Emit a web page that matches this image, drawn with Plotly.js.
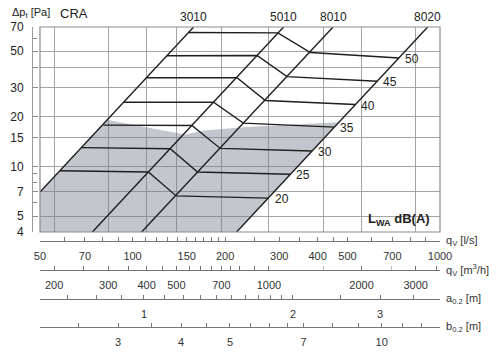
<!DOCTYPE html>
<html><head><meta charset="utf-8">
<script src="https://cdn.plot.ly/plotly-3.0.1.min.js"></script>
<style>html,body{margin:0;padding:0;background:#fff}#chart{width:500px;height:355px}</style>
</head><body><div id="chart"></div>
<script>
// Fan size lines (q in l/s, dp in Pa), end points
const sizeNames = ['3010', '5010', '8010', '8020'];
const sizeQ = [[50, 158], [74, 310], [107, 449], [218, 912]];
const sizeP = [[7.0, 70], [4, 70], [4, 70], [4, 70]];

// Sound level lines LWA dB(A): points on 3010, 5010, 8010, 8020 lines
const dbLevels = ['20', '25', '30', '35', '40', '45', '50'];
const dbQ = [
  [58.1, 112.6, 138.7, 277],
  [68.4, 132.6, 162.7, 326],
  [80.4, 156, 192.9, 384],
  [93.4, 183.4, 229.2, 453],
  [111.3, 218.6, 270.3, 531],
  [129.3, 254, 318, 625],
  [152.1, 297, 378.9, 735]
];
const dbP = [
  [9.4, 9.24, 6.62, 6.42],
  [13.0, 12.8, 9.25, 8.95],
  [17.8, 17.7, 12.85, 12.4],
  [24.5, 24.5, 18.3, 17.3],
  [34.5, 34.5, 25.1, 23.7],
  [46.9, 47.0, 35.0, 32.8],
  [64.8, 64.5, 49.0, 45.4]
];

// Grey recommended area
const shadeQ = [50, 218, 467, 330, 242, 170, 148, 114, 82.5, 50];
const shadeP = [4, 4, 18.5, 17.9, 17.4, 16.5, 15.6, 17.1, 19.2, 7.0];

// Grid (m3/h) and axis ticks
const gridM3h = [200, 300, 400, 500, 700, 1000, 1500, 2000, 3000];
const yTicks = [4, 5, 7, 10, 15, 20, 30, 40, 50, 70];
const yTickText = ['4', '5', '7', '10', '15', '20', '30', '', '50', '70'];
const yMinor = [6, 8, 9, 60];

const lsTicks = [50, 60, 70, 80, 90, 100, 110, 120, 130, 140, 150, 160, 170, 180, 190, 200, 250, 300, 350, 400, 450, 500, 600, 700, 800, 900, 1000];
const lsLabels = [50, 70, 100, 150, 200, 300, 400, 500, 700, 1000];
const m3hTicks = [181, 200, 250, 300, 350, 400, 450, 500, 550, 600, 650, 700, 750, 800, 900, 1000, 2000, 3000, 3500, 3590];
const m3hMinor = [1500, 2500];
const m3hLabels = [200, 300, 400, 500, 700, 1000, 2000, 3000];
const aTicks = [0.618, 0.7, 0.8, 0.9, 1, 1.1, 1.2, 1.3, 1.4, 1.5, 1.6, 1.7, 1.8, 1.9, 2, 2.5, 3, 3.5, 3.95];
const aLabels = [1, 2, 3];
const bTicks = [2.105, 2.5, 3, 3.5, 4, 4.5, 5, 5.5, 6, 6.5, 7, 8, 9, 10, 11, 12, 13.0];
const bLabels = [3, 4, 5, 7, 10];

const F = 'Liberation Sans, Arial, Helvetica, sans-serif';
const LC = '#1e1e1e';
const L10 = Math.log10;

const traces = [];
traces.push({x: shadeQ, y: shadeP, mode: 'lines', fill: 'toself',
  fillcolor: 'rgba(117,124,137,0.43)', line: {width: 0}, hoverinfo: 'skip'});
sizeNames.forEach((n, i) => traces.push({x: sizeQ[i], y: sizeP[i], mode: 'lines',
  line: {color: LC, width: 1.4}, hoverinfo: 'skip'}));
dbLevels.forEach((n, i) => traces.push({x: dbQ[i], y: dbP[i], mode: 'lines',
  line: {color: LC, width: 1.4}, hoverinfo: 'skip'}));
// anchor traces for the extra scales
[['x2', lsTicks], ['x3', m3hTicks], ['x4', aTicks], ['x5', bTicks]].forEach(([ax, t]) =>
  traces.push({x: [t[1]], y: [yTicks[1]], xaxis: ax, mode: 'markers', marker: {opacity: 0}, hoverinfo: 'skip'}));

const lab = (ticks, labels) => ticks.map(v => labels.includes(v) ? String(v) : '');

function lowerAxis(range, pos, tickvals, ticktext, minorVals) {
  const ax = {
    type: 'log', range: range, overlaying: 'x', anchor: 'free', position: pos, side: 'bottom',
    showline: true, linecolor: '#777', linewidth: 1,
    ticks: 'inside', ticklen: 4, tickcolor: '#777', tickwidth: 1,
    tickmode: 'array', tickvals: tickvals, ticktext: ticktext, ticklabelstandoff: 5,
    tickfont: {family: F, size: 11, color: '#333'}, showgrid: false, zeroline: false, fixedrange: true
  };
  if (minorVals) ax.minor = {tickmode: 'array', tickvals: minorVals, ticks: 'inside', ticklen: 4, tickcolor: '#bbb', showgrid: false};
  return ax;
}

const posLs = 0.2937, posM3 = 0.198, posA = 0.1023, posB = 0.0099;

const annotations = [];
sizeNames.forEach((n, i) => annotations.push({x: L10(sizeQ[i][1]), y: L10(sizeP[i][1]), xref: 'x', yref: 'y',
  text: n, showarrow: false, yshift: 10, yanchor: 'middle', font: {family: F, size: 12, color: '#222'}}));
dbLevels.forEach((n, i) => annotations.push({x: L10(dbQ[i][3]), y: L10(dbP[i][3]), xref: 'x', yref: 'y',
  text: n, showarrow: false, xanchor: 'left', xshift: 4, yshift: -1, font: {family: F, size: 12, color: '#222'}}));
annotations.push({xref: 'paper', yref: 'paper', x: -0.05, y: 1, xanchor: 'left', yanchor: 'middle', yshift: 14,
  text: 'Δp<sub>t</sub> [Pa]', showarrow: false, font: {family: F, size: 11, color: '#222'}});
annotations.push({xref: 'paper', yref: 'paper', x: 0.068, y: 1, xanchor: 'left', yanchor: 'middle', yshift: 14,
  text: 'CRA', showarrow: false, font: {family: F, size: 13, color: '#222'}});
annotations.push({xref: 'paper', yref: 'paper', x: 0.9805, y: 0.3663, xanchor: 'right', yanchor: 'middle',
  text: '<b>L<sub>WA</sub> dB(A)</b>', showarrow: false, font: {family: F, size: 13, color: '#222'}});
[['q<sub>V</sub> [l/s]', posLs], ['q<sub>V</sub> [m<sup>3</sup>/h]', posM3], ['a<sub>0.2</sub> [m]', posA], ['b<sub>0.2</sub> [m]', posB]]
  .forEach(([t, p]) => annotations.push({xref: 'paper', yref: 'paper', x: 1, y: p, xanchor: 'left', yanchor: 'middle', xshift: 4,
    text: t, showarrow: false, font: {family: F, size: 11, color: '#333'}}));

const layout = {
  width: 500, height: 355, margin: {l: 30, r: 60, t: 27, b: 25},
  paper_bgcolor: '#fff', plot_bgcolor: 'rgba(0,0,0,0)', showlegend: false, hovermode: false,
  font: {family: F, color: '#222'},
  xaxis: {type: 'log', range: [L10(50), L10(1000)], domain: [0.02439, 1], anchor: 'y',
    tickmode: 'array', tickvals: gridM3h.map(v => v / 3.6), showticklabels: false, ticks: '',
    showgrid: true, gridcolor: '#a4a4a4', gridwidth: 1, showline: false, zeroline: false, fixedrange: true},
  yaxis: {type: 'log', range: [L10(4), L10(70)], domain: [0.3234, 1], anchor: 'free', position: 0.00488,
    tickmode: 'array', tickvals: yTicks, ticktext: yTickText, ticks: 'inside', ticklen: 5, tickcolor: '#888',
    showline: true, linecolor: '#999', linewidth: 1, ticklabelstandoff: 6,
    tickfont: {family: F, size: 12, color: '#222'},
    showgrid: true, gridcolor: '#a4a4a4', gridwidth: 1, zeroline: false, fixedrange: true,
    minor: {tickmode: 'array', tickvals: yMinor, ticks: 'inside', ticklen: 4, tickcolor: '#888', showgrid: false}},
  xaxis2: lowerAxis([L10(50), L10(1000)], posLs, lsTicks, lab(lsTicks, lsLabels)),
  xaxis3: lowerAxis([L10(180), L10(3600)], posM3, m3hTicks, lab(m3hTicks, m3hLabels), m3hMinor),
  xaxis4: lowerAxis([L10(0.6165), L10(3.963)], posA, aTicks, lab(aTicks, aLabels)),
  xaxis5: lowerAxis([L10(2.099), L10(13.05)], posB, bTicks, lab(bTicks, bLabels)),
  shapes: [{type: 'rect', xref: 'x domain', yref: 'y domain', x0: 0, x1: 1, y0: 0, y1: 1,
    line: {color: '#8c8c8c', width: 1.2}, layer: 'above'}],
  annotations: annotations
};

Plotly.newPlot('chart', traces, layout, {displayModeBar: false, staticPlot: true});
</script>
</body></html>
